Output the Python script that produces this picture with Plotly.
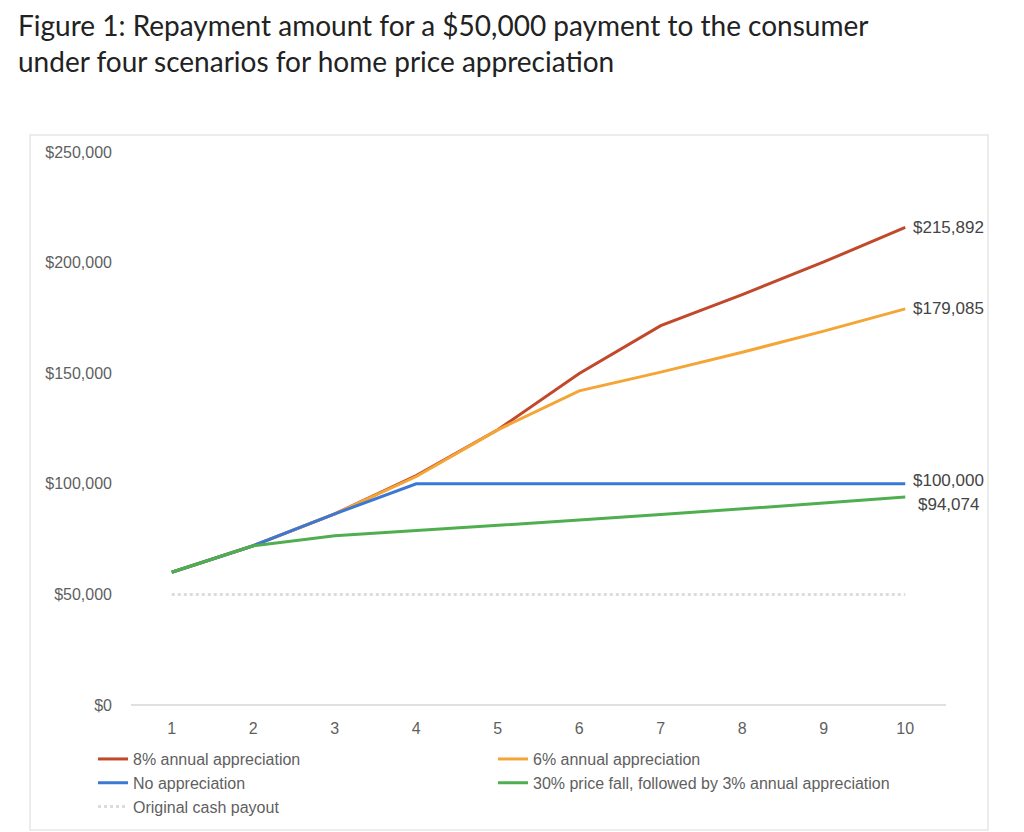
import plotly.graph_objects as go

years = [1, 2, 3, 4, 5, 6, 7, 8, 9, 10]
appr_8 = [60000, 72000, 86400, 103700, 124400, 149900, 171500, 185500, 200300, 215892]
appr_6 = [60000, 72000, 86400, 103300, 124400, 142000, 150500, 159500, 169000, 179085]
no_appr = [60000, 72000, 86400, 100000, 100000, 100000, 100000, 100000, 100000, 100000]
fall_30 = [60000, 72000, 76500, 78800, 81100, 83600, 86100, 88600, 91300, 94074]
cash_payout = [50000] * 10
y_ticks = [0, 50000, 100000, 150000, 200000, 250000]

series = [
    ("8% annual appreciation", appr_8, "#c2482b", "solid"),
    ("6% annual appreciation", appr_6, "#f5a535", "solid"),
    ("No appreciation", no_appr, "#3b78d6", "solid"),
    ("30% price fall, followed by 3% annual appreciation", fall_30, "#4fae4f", "solid"),
    ("Original cash payout", cash_payout, "#dcdcdc", "dot"),
]

fig = go.Figure()
for name, vals, col, dash in series:
    fig.add_trace(go.Scatter(x=years, y=vals, name=name, mode="lines",
                             line=dict(color=col, width=3, dash=dash)))

# end-of-line value labels
end_labels = [(appr_8[-1], 0), (appr_6[-1], 0), (no_appr[-1], 3), (fall_30[-1], -8)]
for val, shift in end_labels:
    fig.add_annotation(x=years[-1], y=val, text="${:,.0f}".format(val),
                       xanchor="left", xshift=6 if shift >= 0 else 11, yshift=shift,
                       showarrow=False, font=dict(size=17, color="#444444"))

# title
fig.add_annotation(xref="paper", yref="paper", x=-115 / 815, y=1 + 72 / 553,
                   xanchor="left", yanchor="bottom", align="left", showarrow=False,
                   text="Figure 1: Repayment amount for a $50,000 payment to the consumer<br>under four scenarios for home price appreciation",
                   font=dict(family="Lato, sans-serif", size=28, color="#222222"))

# box around the chart area
fig.add_shape(type="rect", xref="paper", yref="paper",
              x0=-101 / 815, x1=857 / 815, y0=-125 / 553, y1=1 + 17 / 553,
              line=dict(color="#e6e6e6", width=1.5))

fig.update_layout(
    width=1024, height=832,
    margin=dict(l=123, r=86, t=144, b=135),
    paper_bgcolor="white", plot_bgcolor="white",
    font=dict(family="Liberation Sans, Arial, sans-serif", size=16, color="#5f5f5f"),
    showlegend=True,
    legend=dict(orientation="h", x=-38 / 815, xanchor="left", y=-0.067, yanchor="top",
                entrywidth=355, font=dict(size=16, color="#5f5f5f")),
)
fig.update_xaxes(range=[0.5, 10.5], tickvals=years, showgrid=False, zeroline=False,
                 showline=False, ticks="", ticklabelstandoff=12, tickfont=dict(size=16))
fig.update_yaxes(range=[0, 250000], tickvals=y_ticks,
                 ticktext=["${:,.0f}".format(v) for v in y_ticks],
                 showgrid=False, zeroline=True,
                 zerolinecolor="#e0e0e0", zerolinewidth=1.5, showline=False, ticks="",
                 ticklabelstandoff=18, tickfont=dict(size=16))

fig.write_html("out.html")
